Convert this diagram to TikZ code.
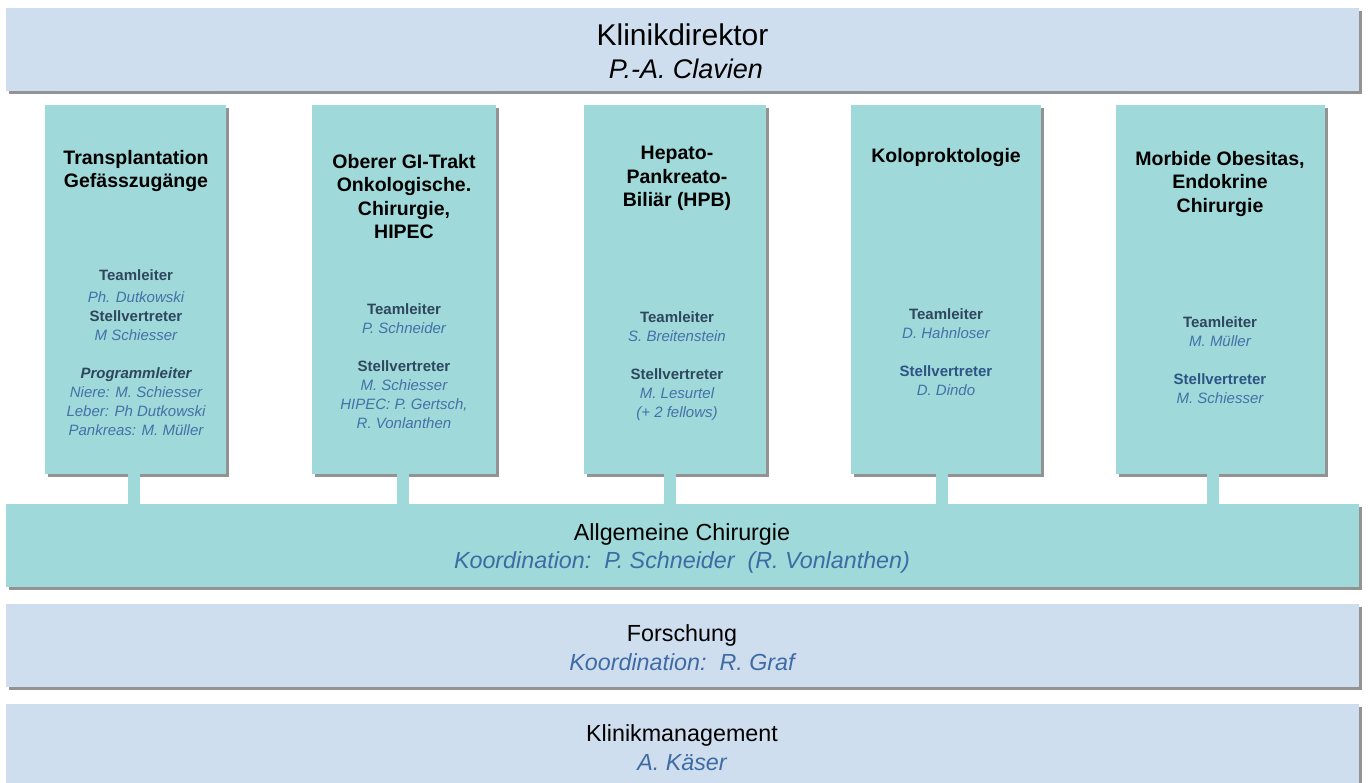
\documentclass[tikz,border=0pt]{standalone}
\usepackage{fontspec}
\setmainfont{Liberation Sans}
\usetikzlibrary{shadows}

\definecolor{barblue}{HTML}{CFDEEE}
\definecolor{unitteal}{HTML}{9FD9D9}
\definecolor{shadowgray}{HTML}{939393}
\definecolor{namecol}{HTML}{4670A8}
\definecolor{rolecol}{HTML}{2E475E}
\definecolor{rolecolb}{HTML}{2D5584}
\definecolor{coordcol}{HTML}{3F6BA4}

\newcommand\rolehd[1]{{\bfseries\color{rolecol}#1}}
\newcommand\rolehdb[1]{{\bfseries\color{rolecolb}#1}}
\newcommand\staffname[1]{{\itshape\color{namecol}#1}}

\tikzset{
  boxshadow/.style={drop shadow={shadow xshift=3pt,shadow yshift=-3pt,fill=shadowgray,opacity=1}},
  bar/.style={fill=barblue, boxshadow, draw=none, inner sep=0pt,
    minimum width=1353pt, minimum height=83pt},
  unit/.style={fill=unitteal, boxshadow, draw=none, inner sep=0pt, minimum height=369pt},
  unittitle/.style={anchor=north, inner sep=0pt, align=center,
    font=\bfseries\fontsize{19.5}{23.5}\selectfont},
  staff/.style={anchor=north, inner sep=0pt, align=center,
    font=\fontsize{15}{19}\selectfont},
  stem/.style={draw=unitteal, line width=12pt},
  bigtext/.style={inner sep=0pt, align=center, font=\fontsize{30}{33}\selectfont},
  bartext/.style={inner sep=0pt, align=center, font=\fontsize{23.3}{28.5}\selectfont},
}

\begin{document}
\begin{tikzpicture}[x=1pt,y=-1pt]
\useasboundingbox (0,0) rectangle (1368,783);

% Director bar
\node[bar] (dir) at (682.5,49.5) {};
\node[bigtext] (dirtext) at ([yshift=-2pt]dir.center)
  {Klinikdirektor\\\hspace*{7pt}{\itshape\fontsize{27}{33}\selectfont P.-A. Clavien}};

% Unit columns
\node[unit, minimum width=181pt] (c1) at (135.5,289.5) {};
\node[unit, minimum width=184pt] (c2) at (404,289.5) {};
\node[unit, minimum width=182pt] (c3) at (675,289.5) {};
\node[unit, minimum width=190pt] (c4) at (946,289.5) {};
\node[unit, minimum width=209pt] (c5) at (1220.5,289.5) {};

% General surgery, research and management bars
\node[bar, fill=unitteal] (ac) at (682,545.5) {};
\node[bar] (fo) at (682,645.5) {};
\node[bar] (km) at (682,745.5) {};

\node[bartext] (actext) at ([yshift=-3pt]ac.center)
  {Allgemeine Chirurgie\\{\itshape\color{coordcol}Koordination:\ \ P. Schneider\ \ (R. Vonlanthen)}};
\node[bartext] (fotext) at ([yshift=-2pt]fo.center)
  {Forschung\\{\itshape\color{coordcol}Koordination:\ \ R. Graf}};
\node[bartext] (kmtext) at ([yshift=-2pt]km.center)
  {Klinikmanagement\\{\itshape\color{coordcol}A. K\"aser}};

% Stems joining the units to the general surgery bar
\draw[stem] ([xshift=-1.5pt]c1.south) -- ([xshift=-1.5pt]c1.south |- ac.north);
\draw[stem] ([xshift=-1pt]c2.south) -- ([xshift=-1pt]c2.south |- ac.north);
\draw[stem] ([xshift=-5.5pt]c3.south) -- ([xshift=-5.5pt]c3.south |- ac.north);
\draw[stem] ([xshift=-4pt]c4.south) -- ([xshift=-4pt]c4.south |- ac.north);
\draw[stem] ([xshift=-8pt]c5.south) -- ([xshift=-8pt]c5.south |- ac.north);

% Unit titles
\node[unittitle] (t1) at (136,150) {Transplantation\\Gef\"asszug\"ange};
\node[unittitle] (t2) at (404,154) {Oberer GI-Trakt\\Onkologische.\\Chirurgie,\\HIPEC};
\node[unittitle] (t3) at (677,146) {Hepato-\\Pankreato-\\Bili\"ar (HPB)};
\node[unittitle] (t4) at (946,148) {Koloproktologie};
\node[unittitle] (t5) at (1220,151) {Morbide Obesitas,\\Endokrine\\Chirurgie};

% Unit staff
\node[staff] (s1) at (136,269.5) {\rolehd{Teamleiter}\\[3pt]
  \staffname{Ph. Dutkowski}\\
  \rolehd{Stellvertreter}\\
  \staffname{M Schiesser}\\[19pt]
  {\bfseries\itshape\color{rolecol}Programmleiter}\\
  \staffname{Niere: M. Schiesser}\\
  \staffname{Leber: Ph Dutkowski}\\
  \staffname{Pankreas: M. M\"uller}};
\node[staff] (s2) at (404,303.5) {\rolehd{Teamleiter}\\
  \staffname{P. Schneider}\\[19pt]
  \rolehd{Stellvertreter}\\
  \staffname{M. Schiesser}\\
  \staffname{HIPEC: P. Gertsch,}\\
  \staffname{R. Vonlanthen}};
\node[staff] (s3) at (677,311.5) {\rolehd{Teamleiter}\\
  \staffname{S. Breitenstein}\\[19pt]
  \rolehd{Stellvertreter}\\
  \staffname{M. Lesurtel}\\
  \staffname{(+ 2 fellows)}};
\node[staff] (s4) at (946,308.5) {\rolehd{Teamleiter}\\
  \staffname{D. Hahnloser}\\[19pt]
  \rolehdb{Stellvertreter}\\
  \staffname{D. Dindo}};
\node[staff] (s5) at (1220,316.5) {\rolehd{Teamleiter}\\
  \staffname{M. M\"uller}\\[19pt]
  \rolehdb{Stellvertreter}\\
  \staffname{M. Schiesser}};
\end{tikzpicture}
\end{document}
